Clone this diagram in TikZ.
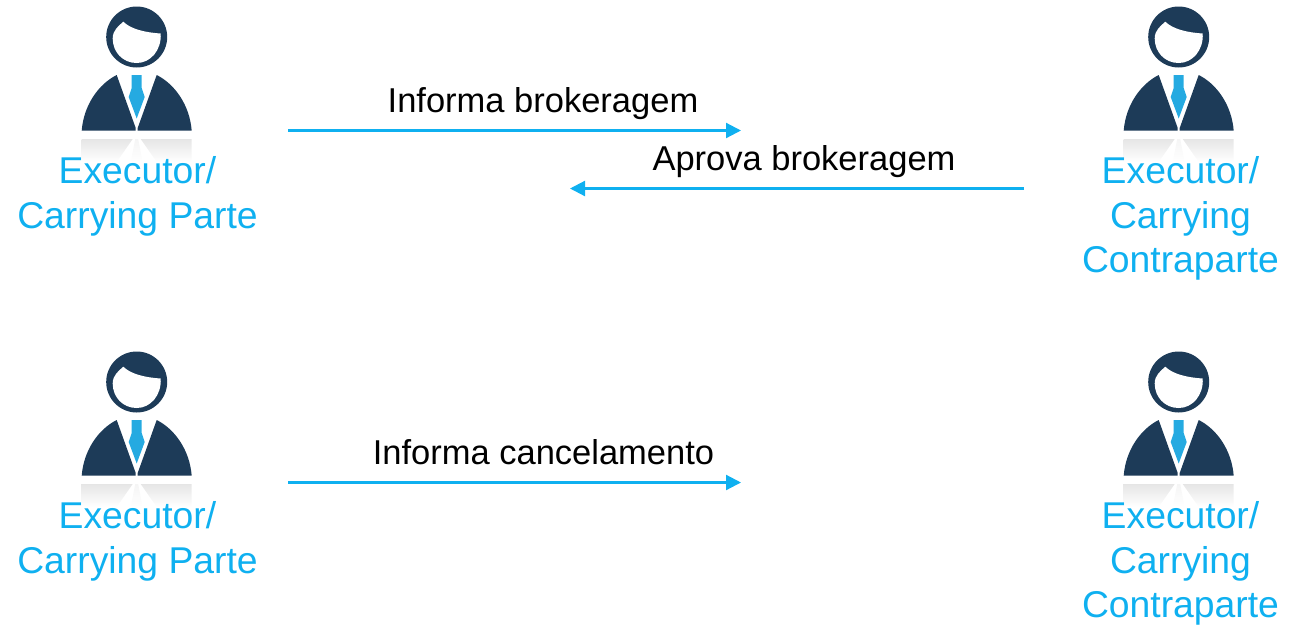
\documentclass[tikz,border=0pt]{standalone}
\usepackage{fontspec}
\setmainfont{Liberation Sans}
\usetikzlibrary{arrows.meta}
\definecolor{suit}{HTML}{1D3B58}
\definecolor{tie}{HTML}{25AAE1}
\definecolor{lab}{HTML}{0FB0F0}
\tikzset{
  x=1pt,y=-1pt,
  flow/.style={draw=lab,line width=2.2pt,-{Triangle[length=15pt,width=15pt]}},
  msg/.style={inner sep=0pt,font=\fontsize{34.5}{34.5}\selectfont,text=black,anchor=base},
  who/.style={inner sep=0pt,font=\fontsize{37.3}{44.5}\selectfont,text=lab,align=center,anchor=north},
  person/.pic={
    \fill[suit] (0,37) circle[radius=30.5];
    \fill[white] (-24,38.5) .. controls (-24,30) and (-18,26) .. (-13.4,21.7)
      .. controls (-6,29) and (8,32.5) .. (24,33.5)
      .. controls (25,50) and (14,63) .. (0,63)
      .. controls (-14,63) and (-24,52) .. (-24,38.5) -- cycle;
    \fill[suit] (-55,130.7) .. controls (-53,105) and (-38,84) .. (-20,75)
      -- (-1,128) -- (-1,130.7) -- cycle;
    \fill[suit] (55,130.7) .. controls (53,105) and (38,84) .. (20,75)
      -- (1,128) -- (1,130.7) -- cycle;
    \fill[tie] (-5,75) -- (5,75) -- (5,88) -- (8,97) -- (0,118.5) -- (-8,97) -- (-5,88) -- cycle;
    \shade[top color=black!10,bottom color=white] (-55,139) -- (-4,139) -- (-20,162) -- (-55,162) -- cycle;
    \shade[top color=black!10,bottom color=white] (55,139) -- (4,139) -- (20,162) -- (55,162) -- cycle;
    \shade[top color=black!4,bottom color=white] (-1.5,139) -- (1.5,139) -- (6,162) -- (-6,162) -- cycle;
  }
}
\begin{document}
\begin{tikzpicture}
\useasboundingbox (0,0) rectangle (1296,624);
\pic (p1) at (136.7,0) {person};
\pic (p2) at (1178.7,0) {person};
\pic (p3) at (136.7,345) {person};
\pic (p4) at (1178.7,345) {person};
\node[who] (l1) at (137.5,156.5) {Executor/\\Carrying Parte};
\node[who] (l2) at (1180.5,156.5) {Executor/\\Carrying\\Contraparte};
\node[who] (l3) at (137.5,501.5) {Executor/\\Carrying Parte};
\node[who] (l4) at (1180.5,501.5) {Executor/\\Carrying\\Contraparte};
\coordinate (a1s) at (288,130.5);
\coordinate (a1e) at (741,130.5);
\coordinate (a2s) at (1024,188.5);
\coordinate (a2e) at (570,188.5);
\coordinate (a3s) at (288,482.5);
\coordinate (a3e) at (741,482.5);
\draw[flow] (a1s) -- (a1e);
\draw[flow] (a2s) -- (a2e);
\draw[flow] (a3s) -- (a3e);
\node[msg] (m1) at (543,112) {Informa brokeragem};
\node[msg] (m2) at (804,170) {Aprova brokeragem};
\node[msg] (m3) at (543.5,464) {Informa cancelamento};
\end{tikzpicture}
\end{document}
